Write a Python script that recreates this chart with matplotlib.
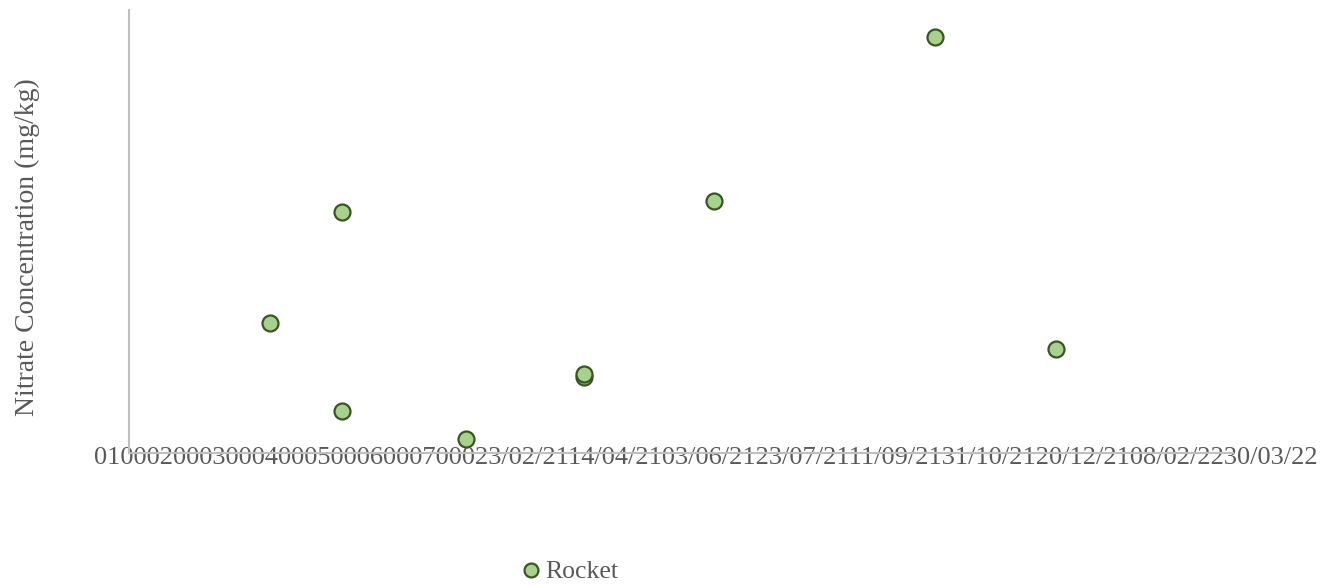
import matplotlib
matplotlib.use("Agg")
import matplotlib.pyplot as plt
import matplotlib.dates as mdates
from matplotlib.lines import Line2D
import datetime as dt

# ---- data ----
sample_dates = ["2021-04-15", "2021-05-11", "2021-05-11", "2021-06-25", "2021-08-07",
                "2021-08-07", "2021-09-23", "2021-12-12", "2022-01-25"]
nitrate = [2054, 3808, 664, 221, 1201, 1248, 3982, 6573, 1643]
y_tick_labels = ["0", "1000", "2000", "3000", "4000", "5000", "6000", "7000"]
x_tick_labels = ["23/02/21", "14/04/21", "03/06/21", "23/07/21", "11/09/21",
                 "31/10/21", "20/12/21", "08/02/22", "30/03/22"]
series_name = "Rocket"
y_label = "Nitrate Concentration (mg/kg)"

plt.rcParams['font.family'] = ['Liberation Serif', 'DejaVu Serif']
text_color = "#595959"
axis_color = "#BFBFBF"
fill = "#A9D18E"
edge = "#375623"

W, H = 1340, 585
fig = plt.figure(figsize=(W / 100, H / 100), dpi=100)
ax = fig.add_axes([129 / W, (H - 453) / H, (1233 - 129) / W, (453 - 10) / H])

x = [dt.datetime.strptime(d, "%Y-%m-%d") for d in sample_dates]
ax.scatter(mdates.date2num(x), nitrate, s=11.5 ** 2, c=fill, edgecolors=edge,
           linewidths=1.6, zorder=3, clip_on=False)

xmin = mdates.date2num(dt.datetime.strptime(x_tick_labels[0], "%d/%m/%y"))
xmax = mdates.date2num(dt.datetime.strptime(x_tick_labels[-1], "%d/%m/%y"))
ax.set_xlim(xmin, xmax)
ax.set_ylim(0, 7000)

for s in ["top", "right"]:
    ax.spines[s].set_visible(False)
ax.spines["left"].set_color(axis_color)
ax.spines["left"].set_linewidth(1.5)
ax.spines["bottom"].set_color(axis_color)
ax.spines["bottom"].set_linewidth(1.5)
ax.spines["bottom"].set_zorder(5)
ax.spines["left"].set_zorder(5)
ax.set_xticks([])
ax.set_yticks([])

# collapsed tick labels, drawn contiguously along the bottom (under the axis lines)
label_str = "".join(y_tick_labels + x_tick_labels)
ax.text(706 / W, 1 - 458 / H, label_str, ha="center", va="center",
        fontsize=19, color=text_color, zorder=1, transform=fig.transFigure,
        clip_on=False)

fig.text(27 / W, 1 - 247 / H, y_label, rotation=90, ha="center", va="center",
         fontsize=20, color=text_color)

handle = Line2D([], [], marker="o", linestyle="none", markersize=10,
                markerfacecolor=fill, markeredgecolor=edge, markeredgewidth=1.6)
fig.legend([handle], [series_name], loc="center", bbox_to_anchor=(568 / W, 1 - 572 / H),
           frameon=False, fontsize=18.5, labelcolor=text_color, handletextpad=0.05,
           handlelength=1.0, borderpad=0)

fig.savefig("out.png", dpi=100)
